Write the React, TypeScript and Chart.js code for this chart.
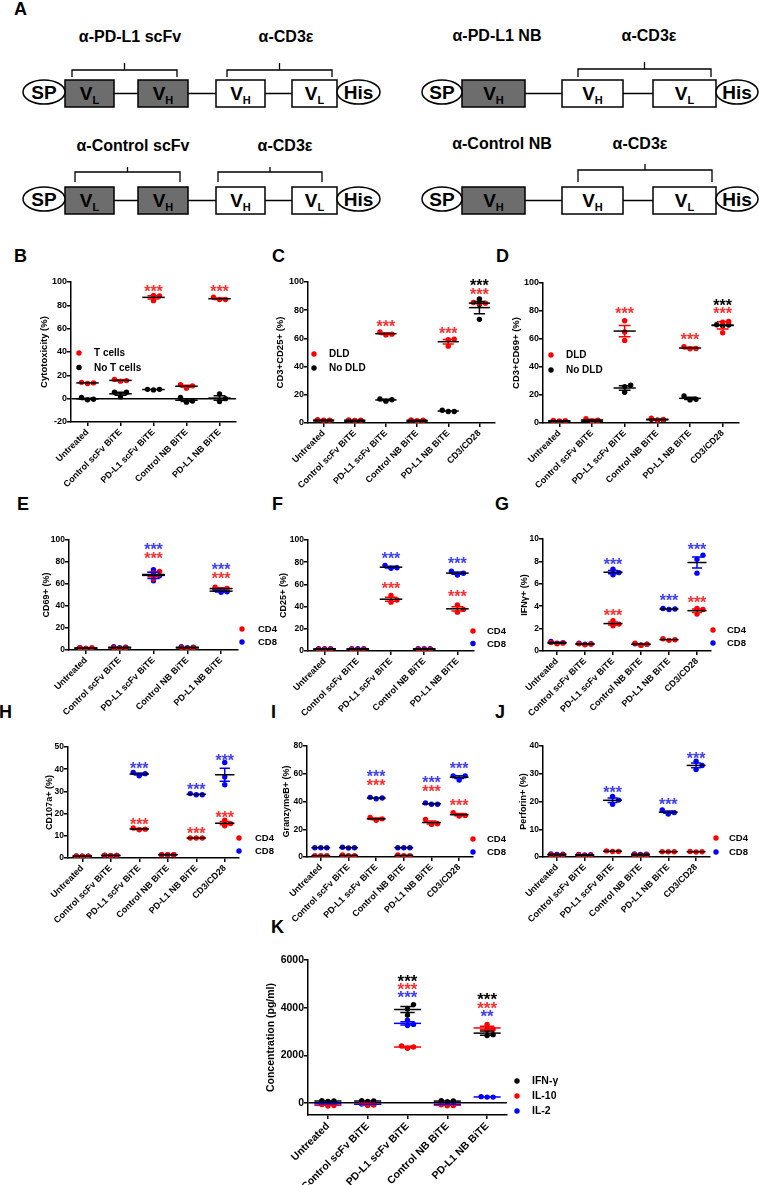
import React, { useEffect, useRef } from "react";
import { Chart, registerables } from "chart.js";

Chart.register(...registerables);

const FONT = '"Liberation Sans", Arial, Helvetica, sans-serif';
const RED = "#ff0000";
const BLUE = "#0000ff";
const BLACK = "#000000";
const RED_STAR = "#ff2e2e";
const BLUE_STAR = "#3d3dff";

// ---------- categories ----------
const cats5 = ["Untreated", "Control scFv BiTE", "PD-L1 scFv BiTE", "Control NB BiTE", "PD-L1 NB BiTE"];
const cats6 = [...cats5, "CD3/CD28"];

// ---------- tick values ----------
const ticksB = [-20, 0, 20, 40, 60, 80, 100];
const ticks100 = [0, 20, 40, 60, 80, 100];
const ticksG = [0, 2, 4, 6, 8, 10];
const ticksH = [0, 10, 20, 30, 40, 50];
const ticksI = [0, 20, 40, 60, 80];
const ticksJ = [0, 10, 20, 30, 40];
const ticksK = [0, 2000, 4000, 6000];

// ---------- B: cytotoxicity ----------
const bTCells = [[14, 13, 13.5], [15, 16.5, 15.5], [88.5, 88, 84], [12, 11, 9], [87, 85, 85]];
const bNoTCells = [[1, -0.5, -1], [5.5, 5.5, 1.5], [8, 8, 7.5], [1, -2, -3], [4, 0, -2.5]];
const bStars = [{ s: 0, c: 2, y: 95 }, { s: 0, c: 4, y: 95 }];

// ---------- C: CD3+CD25+ ----------
const cDLD = [[2, 2, 2.3], [1.8, 2, 2.2], [63, 62.5, 64.5], [2, 2.2, 1.6], [59.5, 59, 54.5], [85, 85.5, 84.5]];
const cNoDLD = [[1.5, 1.2, 1.8], [1.2, 1.2, 1.0], [17, 16.5, 15.5], [1.2, 1.6, 1.1], [9, 8.2, 8.2], [88, 73.5, 84]];
const cStars = [{ s: 0, c: 2, y: 71 }, { s: 0, c: 4, y: 66 }, { s: 0, c: 5, y: 94 }, { s: 1, c: 5, y: 100 }];

// ---------- D: CD3+CD69+ ----------
const dDLD = [[1.5, 1.6, 1.8], [1.5, 2, 3], [73, 65, 59], [2, 2.5, 3.5], [53, 53.2, 54.5], [72, 72.5, 64.5]];
const dNoDLD = [[1, 1.2, 1], [1.5, 1.4, 1], [27, 26, 22], [2, 2.1, 2.6], [19.3, 17, 16.5], [70, 69.5, 70.2]];
const dStars = [{ s: 0, c: 2, y: 80.5 }, { s: 0, c: 4, y: 62.3 }, { s: 0, c: 5, y: 80.5 }, { s: 1, c: 5, y: 86.5 }];

// ---------- E: CD69+ ----------
const eCD4 = [[2, 1.5, 2], [2, 1.5, 2], [71.5, 70, 64.5], [2, 2, 1.5], [57, 56, 54.5]];
const eCD8 = [[2, 1.5, 1.5], [2.5, 3, 2], [73, 67.5, 63], [2.5, 3, 2], [55, 53, 52.5]];
const eStars = [{ s: 0, c: 2, y: 86.4 }, { s: 1, c: 2, y: 95 }, { s: 0, c: 4, y: 68.2 }, { s: 1, c: 4, y: 76.4 }];

// ---------- F: CD25+ ----------
const fCD4 = [[1.5, 1.5, 1.5], [1.5, 1, 1.5], [50, 46, 44], [1.5, 1.5, 1.5], [41.5, 37.5, 35]];
const fCD8 = [[2, 2, 2], [2, 2, 2], [77, 75, 74.5], [2, 2, 2], [72, 70, 68.5]];
const fStars = [{ s: 1, c: 2, y: 86.2 }, { s: 0, c: 2, y: 59.5 }, { s: 1, c: 4, y: 81.7 }, { s: 0, c: 4, y: 52 }];

// ---------- G: IFNγ+ ----------
const gCD4 = [[0.65, 0.7, 0.75], [0.6, 0.55, 0.65], [2.7, 2.4, 2.25], [0.5, 0.6, 0.7], [1.1, 1.0, 0.95], [3.8, 3.7, 3.3]];
const gCD8 = [[0.7, 0.75, 0.85], [0.6, 0.65, 0.7], [7.3, 7.0, 6.8], [0.55, 0.6, 0.65], [3.8, 3.75, 3.7], [8.55, 8.2, 6.95]];
const gStars = [{ s: 1, c: 2, y: 8.05 }, { s: 0, c: 2, y: 3.5 }, { s: 1, c: 4, y: 4.8 }, { s: 1, c: 5, y: 9.4 }, { s: 0, c: 5, y: 4.65 }];

// ---------- H: CD107a+ ----------
const hCD4 = [[0.8, 0.8, 0.8], [1.2, 1.3, 1.0], [13.5, 13, 12.7], [1.5, 1.5, 1.5], [9, 9, 9], [17, 15.5, 14.5]];
const hCD8 = [[0.8, 0.9, 0.8], [1.1, 1.2, 1.0], [38.5, 38, 37], [1.5, 1.5, 1.5], [29, 28.5, 28.5], [43, 36.5, 33]];
const hStars = [{ s: 1, c: 2, y: 42 }, { s: 0, c: 2, y: 16.7 }, { s: 1, c: 4, y: 32.7 }, { s: 0, c: 4, y: 12.5 }, { s: 1, c: 5, y: 45.5 }, { s: 0, c: 5, y: 20 }];

// ---------- I: GranzymeB+ ----------
const iCD4 = [[1, 1, 1], [1, 1, 1.5], [28.5, 27.5, 26.5], [1, 1, 1.5], [27, 24, 23.5], [32, 30, 29.5]];
const iCD8 = [[6.7, 6.7, 6.7], [6.7, 6.5, 7], [42.5, 42, 43], [6.7, 6.7, 6.7], [39, 38, 38], [58.5, 58.5, 55.5]];
const iStars = [{ s: 1, c: 2, y: 60.8 }, { s: 0, c: 2, y: 54.4 }, { s: 1, c: 4, y: 56 }, { s: 0, c: 4, y: 49.6 }, { s: 1, c: 5, y: 66.4 }, { s: 0, c: 5, y: 40 }];

// ---------- J: Perforin+ ----------
const jCD4 = [[0.8, 0.6, 0.8], [0.5, 0.6, 0.7], [2.2, 2.0, 2.0], [0.6, 0.7, 0.8], [1.9, 1.9, 1.9], [1.9, 1.8, 2.0]];
const jCD8 = [[1.0, 0.9, 1.1], [0.8, 0.9, 0.7], [21.8, 20.5, 19], [1, 1.1, 0.9], [17, 16, 15.5], [34.5, 33, 31.5]];
const jStars = [{ s: 1, c: 2, y: 24.5 }, { s: 1, c: 4, y: 20.2 }, { s: 1, c: 5, y: 36.9 }];

// ---------- K: cytokines ----------
const kIFN = [[90, 100, 70], [90, 100, 70], [4130, 3950, 3690], [90, 100, 60], [3100, 2870, 2830]];
const kIL10 = [[-100, -120, -60], [-80, -100, 30], [2400, 2350, 2300], [-100, -110, -70], [3300, 3100, 3050]];
const kIL2 = [[-20, -40, -30], [-50, -60, -40], [3480, 3300, 3250], [-50, -60, -40], [270, 250, 250]];
const kStars = [
  { s: 0, c: 2, y: 5257 }, { s: 1, c: 2, y: 4950 }, { s: 2, c: 2, y: 4600 },
  { s: 0, c: 4, y: 4500 }, { s: 1, c: 4, y: 4137 }, { s: 2, c: 4, y: 3813, t: "**" },
];

// ---------- types ----------
type Star = { s: number; c: number; y: number; t?: string };
type Series = { name: string; color: string; star: string; values: number[][] };
type Cfg = {
  cats: string[];
  series: Series[];
  min: number;
  max: number;
  ticks: number[];
  title: string;
  stars: Star[];
  plot: { l: number; r: number; t: number; b: number };
  titleX: number;
  legend: { x: number; y: number; dy: number; tx: number };
  zero?: boolean;
  colorMean?: boolean;
  tickSize: number;
  titleSize: number;
  labelSize: number;
  legendSize: number;
  starSize: number;
};

const cd4cd8 = (a: number[][], b: number[][]): Series[] => [
  { name: "CD4", color: RED, star: RED_STAR, values: a },
  { name: "CD8", color: BLUE, star: BLUE_STAR, values: b },
];
const dld = (a: number[][], b: number[][]): Series[] => [
  { name: "DLD", color: RED, star: RED_STAR, values: a },
  { name: "No DLD", color: BLACK, star: BLACK, values: b },
];

const base = { tickSize: 8.5, titleSize: 9, labelSize: 9, legendSize: 9.5, starSize: 16 };

const panels: Cfg[] = [
  {
    ...base, cats: cats5,
    series: [
      { name: "T cells", color: RED, star: RED_STAR, values: bTCells },
      { name: "No T cells", color: BLACK, star: BLACK, values: bNoTCells },
    ],
    min: -20, max: 100, ticks: ticksB, title: "Cytotoxicity (%)", stars: bStars,
    plot: { l: 71, r: 236, t: 282, b: 422 }, titleX: 45,
    legend: { x: 79, y: 353, dy: 14.5, tx: 94 }, zero: true, legendSize: 10, titleSize: 9.5, tickSize: 9,
  },
  {
    ...base, cats: cats6, series: dld(cDLD, cNoDLD), min: 0, max: 100, ticks: ticks100,
    title: "CD3+CD25+ (%)", stars: cStars, plot: { l: 308, r: 495, t: 282, b: 423 }, titleX: 281,
    legend: { x: 314, y: 354, dy: 14, tx: 329 }, legendSize: 10, titleSize: 9.5, tickSize: 9,
  },
  {
    ...base, cats: cats6, series: dld(dDLD, dNoDLD), min: 0, max: 100, ticks: ticks100,
    title: "CD3+CD69+ (%)", stars: dStars, plot: { l: 543, r: 739, t: 283, b: 423 }, titleX: 517,
    legend: { x: 551, y: 355, dy: 15, tx: 566 }, legendSize: 10, titleSize: 9.5, tickSize: 9,
  },
  {
    ...base, cats: cats5, series: cd4cd8(eCD4, eCD8), min: 0, max: 100, ticks: ticks100,
    title: "CD69+ (%)", stars: eStars, plot: { l: 69, r: 238, t: 540, b: 650 }, titleX: 46,
    legend: { x: 242, y: 629, dy: 13, tx: 258 },
  },
  {
    ...base, cats: cats5, series: cd4cd8(fCD4, fCD8), min: 0, max: 100, ticks: ticks100,
    title: "CD25+ (%)", stars: fStars, plot: { l: 308, r: 474, t: 540, b: 651 }, titleX: 283,
    legend: { x: 473, y: 631, dy: 12.5, tx: 487 },
  },
  {
    ...base, cats: cats6, series: cd4cd8(gCD4, gCD8), min: 0, max: 10, ticks: ticksG,
    title: "IFNγ+ (%)", stars: gStars, plot: { l: 543, r: 711, t: 539, b: 651 }, titleX: 524,
    legend: { x: 713, y: 630, dy: 13, tx: 727 },
  },
  {
    ...base, cats: cats6, series: cd4cd8(hCD4, hCD8), min: 0, max: 50, ticks: ticksH,
    title: "CD107a+ (%)", stars: hStars, plot: { l: 68, r: 239, t: 747, b: 858 }, titleX: 49,
    legend: { x: 239, y: 838, dy: 13, tx: 255 },
  },
  {
    ...base, cats: cats6, series: cd4cd8(iCD4, iCD8), min: 0, max: 80, ticks: ticksI,
    title: "GranzymeB+ (%)", stars: iStars, plot: { l: 307, r: 473, t: 746, b: 857 }, titleX: 286,
    legend: { x: 473, y: 839, dy: 13, tx: 487 },
  },
  {
    ...base, cats: cats6, series: cd4cd8(jCD4, jCD8), min: 0, max: 40, ticks: ticksJ,
    title: "Perforin+ (%)", stars: jStars, plot: { l: 543, r: 710, t: 746, b: 857 }, titleX: 523,
    legend: { x: 716, y: 838, dy: 14, tx: 729 },
  },
  {
    cats: cats5,
    series: [
      { name: "IFN-γ", color: BLACK, star: BLACK, values: kIFN },
      { name: "IL-10", color: RED, star: RED_STAR, values: kIL10 },
      { name: "IL-2", color: BLUE, star: BLUE_STAR, values: kIL2 },
    ],
    min: -500, max: 6000, ticks: ticksK, title: "Concentration (pg/ml)", stars: kStars,
    plot: { l: 308, r: 507, t: 960, b: 1115 }, titleX: 271,
    legend: { x: 517, y: 1081, dy: 15, tx: 532 }, zero: true, colorMean: true,
    tickSize: 10.5, titleSize: 10.5, labelSize: 10.5, legendSize: 10.5, starSize: 17,
  },
];

// ---------- helpers ----------
const PAD_TOP = 16;
const X_AXIS_H = 115;
const PAGE_W = 759;

const mean = (a: number[]) => a.reduce((s, v) => s + v, 0) / a.length;
const sem = (a: number[]) => {
  const m = mean(a);
  const sd = Math.sqrt(a.reduce((s, v) => s + (v - m) * (v - m), 0) / (a.length - 1));
  return sd / Math.sqrt(a.length);
};

// simple beeswarm: spread points with nearly equal values horizontally
function swarm(vals: number[], thr: number, d: number): number[] {
  const order = vals.map((_, i) => i).sort((a, b) => vals[a] - vals[b]);
  const placed: { v: number; o: number }[] = [];
  const res = vals.map(() => 0);
  const cands = [0, d, -d, 2 * d, -2 * d, 3 * d, -3 * d];
  for (const i of order) {
    const v = vals[i];
    let off = 0;
    for (const c of cands) {
      if (!placed.some((p) => Math.abs(p.v - v) < thr && Math.abs(p.o - c) < d * 0.9)) {
        off = c;
        break;
      }
    }
    placed.push({ v, o: off });
    res[i] = off;
  }
  return res;
}

function geometry(cfg: Cfg) {
  const lh = cfg.titleSize * 1.2;
  const left = Math.round(cfg.titleX - lh / 2);
  const yAxisW = cfg.plot.l - left;
  const top = cfg.plot.t - PAD_TOP;
  const right = Math.min(cfg.plot.r + 60, PAGE_W);
  const rightPad = right - cfg.plot.r;
  const w = right - left;
  const h = PAD_TOP + (cfg.plot.b - cfg.plot.t) + X_AXIS_H;
  return { left, top, w, h, yAxisW, rightPad };
}

function Panel({ cfg }: { cfg: Cfg }) {
  const ref = useRef<HTMLCanvasElement>(null);
  const g = geometry(cfg);

  useEffect(() => {
    const canvas = ref.current;
    if (!canvas) return;
    const n = cfg.cats.length;
    const pxPerUnit = (cfg.plot.b - cfg.plot.t) / (cfg.max - cfg.min);
    const spacing = (cfg.plot.r - cfg.plot.l) / n;
    const thr = 5 / pxPerUnit;
    const d = 6 / spacing;

    const overlay = {
      id: "overlay",
      afterDatasetsDraw(chart: any) {
        const ctx: CanvasRenderingContext2D = chart.ctx;
        const xs = chart.scales.x;
        const ys = chart.scales.y;
        const sp = xs.getPixelForValue(1) - xs.getPixelForValue(0);
        ctx.save();
        ctx.lineWidth = 1.5;
        // mean and SEM
        cfg.series.forEach((s) => {
          s.values.forEach((vals, ci) => {
            const m = mean(vals);
            const e = sem(vals);
            const cx = xs.getPixelForValue(ci);
            const yHi = ys.getPixelForValue(m + e);
            const yLo = ys.getPixelForValue(m - e);
            const ym = ys.getPixelForValue(m);
            ctx.strokeStyle = s.color;
            if (Math.abs(yLo - yHi) > 1) {
              const cap = 0.18 * sp;
              ctx.beginPath();
              ctx.moveTo(cx, yHi);
              ctx.lineTo(cx, yLo);
              ctx.moveTo(cx - cap, yHi);
              ctx.lineTo(cx + cap, yHi);
              ctx.moveTo(cx - cap, yLo);
              ctx.lineTo(cx + cap, yLo);
              ctx.stroke();
            }
            ctx.strokeStyle = cfg.colorMean ? s.color : BLACK;
            const hw = 0.34 * sp;
            ctx.beginPath();
            ctx.moveTo(cx - hw, ym);
            ctx.lineTo(cx + hw, ym);
            ctx.stroke();
          });
        });
        // significance stars
        ctx.font = `bold ${cfg.starSize}px ${FONT}`;
        ctx.textAlign = "center";
        ctx.textBaseline = "alphabetic";
        cfg.stars.forEach((st) => {
          ctx.fillStyle = cfg.series[st.s].star;
          ctx.fillText(st.t ?? "***", xs.getPixelForValue(st.c), ys.getPixelForValue(st.y) + cfg.starSize * 0.57);
        });
        // legend
        ctx.font = `bold ${cfg.legendSize}px ${FONT}`;
        ctx.textAlign = "left";
        ctx.textBaseline = "middle";
        cfg.series.forEach((s, i) => {
          const ly = cfg.legend.y - g.top + i * cfg.legend.dy;
          ctx.fillStyle = s.color;
          ctx.beginPath();
          ctx.arc(cfg.legend.x - g.left, ly, 2.7, 0, Math.PI * 2);
          ctx.fill();
          ctx.fillStyle = BLACK;
          ctx.fillText(s.name, cfg.legend.tx - g.left, ly + 0.5);
        });
        ctx.restore();
      },
    };

    const chart = new Chart(canvas, {
      type: "scatter",
      data: {
        datasets: cfg.series.map((s) => ({
          label: s.name,
          data: s.values.flatMap((vals, ci) => {
            const offs = swarm(vals, thr, d);
            return vals.map((v, k) => ({ x: ci + offs[k], y: v }));
          }),
          backgroundColor: s.color,
          borderColor: s.color,
          borderWidth: 0,
          pointRadius: 2.7,
          pointHoverRadius: 2.7,
        })),
      },
      options: {
        animation: false,
        responsive: false,
        events: [],
        layout: { padding: { top: PAD_TOP, left: 0, right: g.rightPad, bottom: 0 } },
        plugins: { legend: { display: false }, tooltip: { enabled: false } },
        scales: {
          x: {
            type: "linear",
            min: -0.5,
            max: n - 0.5,
            afterBuildTicks: (ax: any) => {
              ax.ticks = cfg.cats.map((_, i) => ({ value: i }));
            },
            afterFit: (ax: any) => {
              ax.height = X_AXIS_H;
            },
            ticks: {
              autoSkip: false,
              minRotation: 45,
              maxRotation: 45,
              padding: 1,
              color: BLACK,
              font: { family: FONT, size: cfg.labelSize, weight: "bold" },
              callback: (v: any) => cfg.cats[Math.round(Number(v))] ?? "",
            },
            grid: { drawOnChartArea: false, drawTicks: true, tickLength: 4, tickColor: BLACK, lineWidth: 1.5 },
            border: { display: true, color: BLACK, width: 1.5 },
          },
          y: {
            type: "linear",
            min: cfg.min,
            max: cfg.max,
            afterBuildTicks: (ax: any) => {
              ax.ticks = cfg.ticks.map((v) => ({ value: v }));
            },
            afterFit: (ax: any) => {
              ax.width = g.yAxisW;
            },
            ticks: {
              padding: 0,
              color: BLACK,
              font: { family: FONT, size: cfg.tickSize, weight: "bold" },
              callback: (v: any) => String(v),
            },
            grid: {
              drawOnChartArea: !!cfg.zero,
              color: (c: any) => (cfg.zero && c.tick && c.tick.value === 0 ? BLACK : "rgba(0,0,0,0)"),
              tickColor: BLACK,
              tickLength: 4,
              lineWidth: 1.5,
            },
            border: { display: true, color: BLACK, width: 1.5 },
            title: {
              display: true,
              text: cfg.title,
              color: BLACK,
              padding: 0,
              font: { family: FONT, size: cfg.titleSize, weight: "bold" },
            },
          },
        },
      } as any,
      plugins: [overlay],
    });
    return () => chart.destroy();
  }, []);

  return (
    <canvas
      ref={ref}
      width={g.w}
      height={g.h}
      style={{ position: "absolute", left: g.left, top: g.top, width: g.w, height: g.h }}
    />
  );
}

// ---------- panel A schematic ----------
type Construct = {
  titles: [string, number][];
  titleY: number;
  brackets: [number, number][];
  brY: number;
  brEnd: number;
  brTick: number;
  top: number;
  sp: [number, number];
  his: [number, number];
  boxes: [number, number, boolean, string][];
};

const leftBoxes: [number, number, boolean, string][] = [
  [65, 114, true, "L"], [138, 188, true, "H"], [216, 265, false, "H"], [292, 337, false, "L"],
];
const rightBoxes: [number, number, boolean, string][] = [
  [462, 525, true, "H"], [562, 623, false, "H"], [653, 716, false, "L"],
];

const constructs: Construct[] = [
  { titles: [["α-PD-L1 scFv", 130], ["α-CD3ε", 286]], titleY: 42, brackets: [[72, 177], [227, 332]], brY: 70, brEnd: 77, brTick: 63, top: 80, sp: [23, 65], his: [337, 380], boxes: leftBoxes },
  { titles: [["α-PD-L1 NB", 497], ["α-CD3ε", 649]], titleY: 41, brackets: [[578, 711]], brY: 69, brEnd: 77, brTick: 62, top: 80, sp: [422, 462], his: [716, 758], boxes: rightBoxes },
  { titles: [["α-Control scFv", 133], ["α-CD3ε", 285]], titleY: 151, brackets: [[75, 180], [218, 322]], brY: 172, brEnd: 182, brTick: 167, top: 187, sp: [23, 65], his: [337, 380], boxes: leftBoxes },
  { titles: [["α-Control NB", 502], ["α-CD3ε", 640]], titleY: 149, brackets: [[578, 712]], brY: 170, brEnd: 182, brTick: 164, top: 187, sp: [422, 462], his: [716, 758], boxes: rightBoxes },
];

const letters: [string, number, number][] = [
  ["A", 14, 15], ["B", 14, 262], ["C", 272, 262], ["D", 496, 262],
  ["E", 17, 510], ["F", 272, 510], ["G", 495, 510],
  ["H", -1, 718], ["I", 271, 718], ["J", 495, 718], ["K", 271, 933],
];

function Diagram() {
  const BOX_H = 27;
  return (
    <svg width={759} height={1185} style={{ position: "absolute", left: 0, top: 0 }} fontFamily={FONT}>
      {letters.map(([t, x, y]) => (
        <text key={t} x={x} y={y} fontSize={18} fontWeight="bold" fill="#000">{t}</text>
      ))}
      {constructs.map((c, ci) => {
        const cy = c.top + BOX_H / 2;
        const items: any[] = [];
        c.titles.forEach(([t, x], i) => {
          items.push(
            <text key={`t${i}`} x={x} y={c.titleY} fontSize={16} fontWeight="bold" textAnchor="middle" fill="#000">{t}</text>
          );
        });
        c.brackets.forEach(([a, b], i) => {
          const mid = (a + b) / 2;
          items.push(
            <path key={`b${i}`} d={`M${a},${c.brEnd} V${c.brY} H${b} V${c.brEnd} M${mid},${c.brY} V${c.brTick}`} fill="none" stroke="#000" strokeWidth={1.3} />
          );
        });
        for (let i = 0; i < c.boxes.length - 1; i++) {
          items.push(<line key={`l${i}`} x1={c.boxes[i][1]} x2={c.boxes[i + 1][0]} y1={cy} y2={cy} stroke="#000" strokeWidth={1.5} />);
        }
        c.boxes.forEach(([a, b, dark, sub], i) => {
          items.push(
            <rect key={`r${i}`} x={a} y={c.top} width={b - a} height={BOX_H} fill={dark ? "#6d6d6d" : "#fff"} stroke="#000" strokeWidth={1.5} />
          );
          items.push(
            <text key={`v${i}`} x={(a + b) / 2} y={c.top + 20} fontSize={19} fontWeight="bold" textAnchor="middle" fill="#000">
              V<tspan fontSize={11} dy={4}>{sub}</tspan>
            </text>
          );
        });
        const ell = (key: string, [a, b]: [number, number], label: string) => (
          <g key={key}>
            <ellipse cx={(a + b) / 2} cy={c.top + 12} rx={(b - a) / 2} ry={12} fill="#fff" stroke="#000" strokeWidth={1.5} />
            <text x={(a + b) / 2} y={c.top + 19} fontSize={19} fontWeight="bold" textAnchor="middle" fill="#000">{label}</text>
          </g>
        );
        items.push(ell("sp", c.sp, "SP"));
        items.push(ell("his", c.his, "His"));
        return <g key={ci}>{items}</g>;
      })}
    </svg>
  );
}

export default function App() {
  return (
    <div style={{ position: "absolute", left: 0, top: 0, width: 759, height: 1185, background: "#fff", overflow: "hidden" }}>
      <Diagram />
      {panels.map((p, i) => (
        <Panel key={i} cfg={p} />
      ))}
    </div>
  );
}
